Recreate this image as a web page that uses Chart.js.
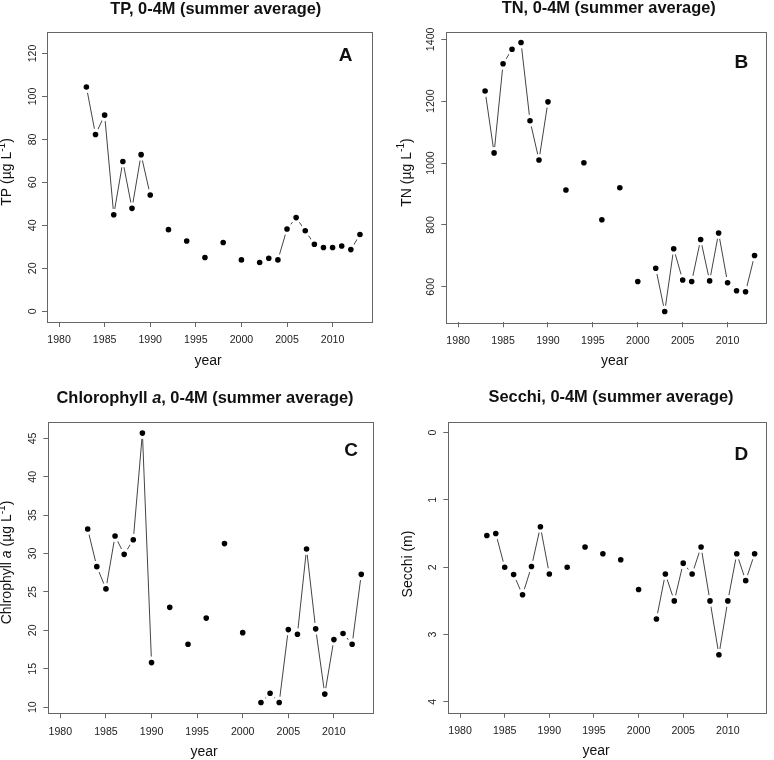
<!DOCTYPE html>
<html><head><meta charset="utf-8">
<script src="https://cdn.jsdelivr.net/npm/chart.js@4.4.1/dist/chart.umd.min.js"></script>
<style>
html,body{margin:0;padding:0;background:#fff;}
#wrap{position:relative;width:774px;height:760px;background:#fff;}
canvas{position:absolute;}
</style></head><body>
<div id="wrap">
<canvas id="cA" width="387" height="380" style="left:0;top:0"></canvas>
<canvas id="cB" width="387" height="380" style="left:387px;top:0"></canvas>
<canvas id="cC" width="387" height="380" style="left:0;top:380px"></canvas>
<canvas id="cD" width="387" height="380" style="left:387px;top:380px"></canvas>
</div>
<script>
// ---- data (summer averages, 0-4 m) ----
const years = [1983,1984,1985,1986,1987,1988,1989,1990,1991,1992,1993,1994,1995,1996,1997,1998,1999,2000,2001,2002,2003,2004,2005,2006,2007,2008,2009,2010,2011,2012,2013];
const tp = [104.4,82.3,91.3,44.9,69.7,47.9,72.9,54.1,null,38.0,null,32.7,null,25.0,null,32.0,null,23.9,null,22.7,24.7,23.9,38.3,43.6,37.5,31.2,29.7,29.7,30.4,28.7,35.7];
const tn = [1233,1033,1321,1368,1390,1137,1010,1198,null,913,null,1001,null,817,null,920,null,617,null,660,520,723,622,617,753,619,774,613,587,584,701];
const chl = [33.2,28.3,25.4,32.3,29.9,31.8,45.7,15.8,null,23.0,null,18.2,null,21.6,null,31.3,null,19.7,null,10.6,11.8,10.6,20.1,19.5,30.6,20.2,11.7,18.8,19.6,18.2,27.3];
const secchi = [1.53,1.50,2.00,2.11,2.41,1.99,1.40,2.10,null,2.00,null,1.70,null,1.80,null,1.89,null,2.33,null,2.77,2.10,2.50,1.94,2.10,1.70,2.50,3.30,2.50,1.80,2.20,1.80];

const xTicks = [1980,1985,1990,1995,2000,2005,2010];
const tpTicks = [0,20,40,60,80,100,120];
const tnTicks = [600,800,1000,1200,1400];
const chlTicks = [10,15,20,25,30,35,40,45];
const secchiTicks = [0,1,2,3,4];
const xLim = [1980,2013];
const tpLim = [0,125];
const secchiLim = [0,4];

const FAM = '"Liberation Sans", Arial, Helvetica, sans-serif';
function ext(lo,hi){const d=(hi-lo)*0.04;return [lo-d,hi+d];}
function dataLim(a){const v=a.filter(x=>x!=null);return [Math.min(...v),Math.max(...v)];}

function drawRich(ctx, segs, cx, cy, size, bold, rotate){
  ctx.save();
  ctx.translate(cx,cy);
  if(rotate) ctx.rotate(-Math.PI/2);
  const fontOf = s => (s.i?'italic ':'')+(bold?'bold ':'')+(s.sup?size*0.72:size)+'px '+FAM;
  let total=0;
  segs.forEach(s=>{ctx.font=fontOf(s);s.w=ctx.measureText(s.t).width;total+=s.w;});
  let x=-total/2;
  ctx.textBaseline='middle';ctx.textAlign='left';ctx.fillStyle='#111';
  segs.forEach(s=>{ctx.font=fontOf(s);ctx.fillText(s.t,x,s.sup?-size*0.38:0);x+=s.w;});
  ctx.restore();
}

const panels = [
 {id:'cA', vals:tp, yTicks:tpTicks, yLim:ext(...tpLim), rev:false,
  area:{l:47,t:32,r:372,b:322}, ytp:0.5,
  title:[{t:'TP, 0-4M (summer average)'}], titlePos:[215.7,9],
  ytitle:[{t:'TP (\u00b5g L'},{t:'-1',sup:true},{t:')'}], ytPos:[7.5,172],
  xtPos:[208,360.7], letter:'A', letPos:[345.5,56]},
 {id:'cB', vals:tn, yTicks:tnTicks, yLim:ext(...dataLim(tn)), rev:false,
  area:{l:59.3,t:31.7,r:380,b:322.3}, ytp:-1.5,
  title:[{t:'TN, 0-4M (summer average)'}], titlePos:[221.7,8.5],
  ytitle:[{t:'TN (\u00b5g L'},{t:'-1',sup:true},{t:')'}], ytPos:[20,172.5],
  xtPos:[227.7,360.7], letter:'B', letPos:[354.3,62.3]},
 {id:'cC', vals:chl, yTicks:chlTicks, yLim:ext(...dataLim(chl)), rev:false,
  area:{l:48.3,t:42.3,r:373.3,b:333.3}, ytp:4.5,
  title:[{t:'Chlorophyll '},{t:'a',i:true},{t:', 0-4M (summer average)'}], titlePos:[205,18.3],
  ytitle:[{t:'Chlrophyll '},{t:'a',i:true},{t:' (\u00b5g L'},{t:'-1',sup:true},{t:')'}], ytPos:[7.3,182.5],
  xtPos:[204,371.7], letter:'C', letPos:[351,71]},
 {id:'cD', vals:secchi, yTicks:secchiTicks, yLim:ext(...secchiLim), rev:true,
  area:{l:61.3,t:41.7,r:383,b:332.7}, ytp:7,
  title:[{t:'Secchi, 0-4M (summer average)'}], titlePos:[224,17.3],
  ytitle:[{t:'Secchi (m)'}], ytPos:[20.7,184],
  xtPos:[209,371], letter:'D', letPos:[354.3,75]}
];

const W=387,H=380;
panels.forEach(p=>{
  const frame = {
    id:'rframe',
    afterDraw(chart){
      const ctx=chart.ctx, a=chart.chartArea;
      ctx.save();
      ctx.strokeStyle='#666';ctx.lineWidth=1;
      ctx.strokeRect(Math.round(a.left)+0.5,Math.round(a.top)+0.5,Math.round(a.right-a.left),Math.round(a.bottom-a.top));
      drawRich(ctx,p.title,p.titlePos[0],p.titlePos[1],16.4,true,false);
      drawRich(ctx,p.ytitle,p.ytPos[0],p.ytPos[1],14,false,true);
      drawRich(ctx,[{t:'year'}],p.xtPos[0],p.xtPos[1],14,false,false);
      drawRich(ctx,[{t:p.letter}],p.letPos[0],p.letPos[1],19,true,false);
      ctx.restore();
    }
  };
  const gridOpt = {display:true,drawOnChartArea:false,drawTicks:true,tickLength:5,color:'#666',tickColor:'#666',tickWidth:1,lineWidth:1};
  new Chart(document.getElementById(p.id),{
    type:'line',
    data:{datasets:[{
      data: years.map((y,i)=>({x:y,y:p.vals[i]})),
      borderColor:'#444',borderWidth:1,
      pointRadius:4.4,pointHoverRadius:4.4,pointBorderWidth:3.2,pointHoverBorderWidth:3.2,
      pointBackgroundColor:'#000',pointBorderColor:'#fff',
      spanGaps:false,tension:0,fill:false
    }]},
    options:{
      responsive:false,animation:false,devicePixelRatio:1,
      events:[],
      layout:{padding:{left:0,top:p.area.t,right:W-p.area.r,bottom:0}},
      plugins:{legend:{display:false},title:{display:false},tooltip:{enabled:false}},
      scales:{
        x:{type:'linear',min:ext(...xLim)[0],max:ext(...xLim)[1],
          afterBuildTicks:s=>{s.ticks=xTicks.map(v=>({value:v}));},
          afterFit:s=>{s.height=H-p.area.b;},
          grid:gridOpt,border:{display:false},
          ticks:{font:{family:FAM,size:10.6},color:'#222',padding:7,maxRotation:0,minRotation:0,autoSkip:false,callback:v=>String(v)}
        },
        y:{type:'linear',min:p.yLim[0],max:p.yLim[1],reverse:p.rev,
          afterBuildTicks:s=>{s.ticks=p.yTicks.map(v=>({value:v}));},
          afterFit:s=>{s.width=p.area.l;},
          grid:gridOpt,border:{display:false},
          ticks:{font:{family:FAM,size:10.6},color:'#222',padding:p.ytp,minRotation:90,maxRotation:90,crossAlign:'center',autoSkip:false,callback:v=>String(v)}
        }
      }
    },
    plugins:[frame]
  });
});
</script>
</body></html>
